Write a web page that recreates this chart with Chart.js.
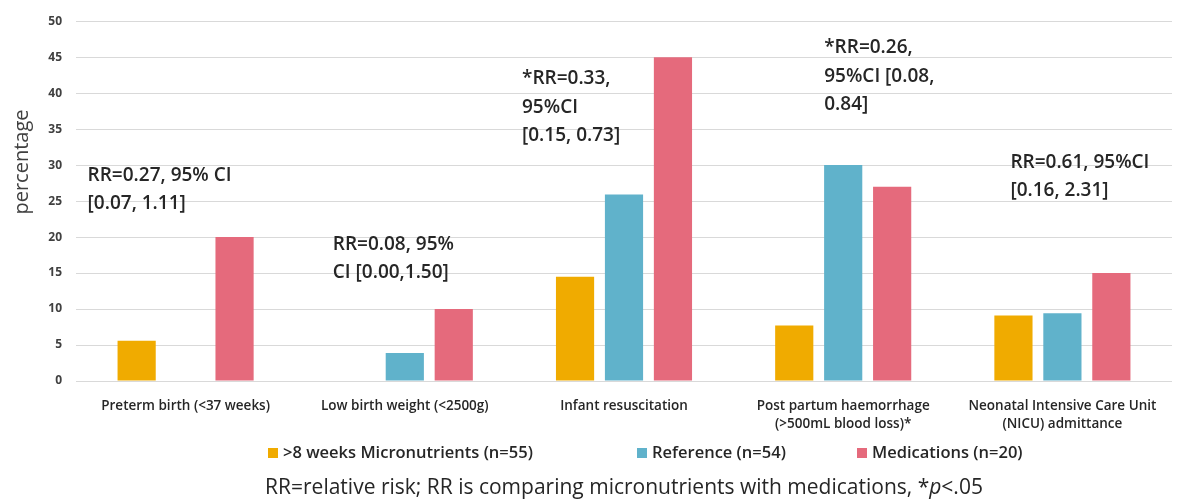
<!DOCTYPE html>
<html>
<head>
<meta charset="utf-8">
<script src="https://cdn.jsdelivr.net/npm/chart.js@4.4.1/dist/chart.umd.min.js"></script>
<style>
  html, body { margin: 0; padding: 0; background: #fff; }
  #wrap { width: 1188px; height: 504px; position: relative; }
</style>
</head>
<body>
<div id="wrap"><canvas id="myChart"></canvas></div>
<script>
// outcome categories (multi-line labels as in the figure)
const categories = [
  ["Preterm birth (<37 weeks)"],
  ["Low birth weight (<2500g)"],
  ["Infant resuscitation"],
  ["Post partum haemorrhage", "(>500mL blood loss)*"],
  ["Neonatal Intensive Care Unit", "(NICU) admittance"]
];

// percentages
const micronutrients = [5.6, 0, 14.5, 7.7, 9.1];
const reference = [0, 3.9, 25.9, 30, 9.4];
const medications = [20, 10, 45, 27, 15];

const seriesNames = [">8 weeks Micronutrients (n=55)", "Reference (n=54)", "Medications (n=20)"];
const yTicks = [0, 5, 10, 15, 20, 25, 30, 35, 40, 45, 50];

// RR notes shown above each group
const rrNotes = [
  ["RR=0.27, 95% CI", "[0.07, 1.11]"],
  ["RR=0.08, 95%", "CI [0.00,1.50]"],
  ["*RR=0.33,", "95%CI", "[0.15, 0.73]"],
  ["*RR=0.26,", "95%CI [0.08,", "0.84]"],
  ["RR=0.61, 95%CI", "[0.16, 2.31]"]
];
const rrNoteLevel = [28.6, 19.0, 42.0, 46.3, 30.4];

const noteOffsets = [-98, -72, -102, -19, -52];
const colors = ["rgb(240,171,0)", "rgb(96,178,203)", "rgb(229,106,124)"];
const legendX = [268, 637, 857];

const notesPlugin = {
  id: "notes",
  afterDraw(chart) {
    const ctx = chart.ctx;
    const x = chart.scales.x, y = chart.scales.y;
    ctx.save();
    ctx.fillStyle = "#262626";
    ctx.font = "600 19px 'Open Sans'";
    ctx.textAlign = "left";
    ctx.textBaseline = "middle";
    rrNotes.forEach((lines, i) => {
      const left = x.getPixelForValue(i) + noteOffsets[i];
      const top = y.getPixelForValue(rrNoteLevel[i]);
      lines.forEach((t, j) => ctx.fillText(t, left, top + j * 28.5));
    });

    // y axis title
    ctx.save();
    ctx.translate(22, 162);
    ctx.rotate(-Math.PI / 2);
    ctx.textAlign = "center";
    ctx.fillStyle = "#404040";
    ctx.font = "20px 'Open Sans'";
    ctx.fillText("percentage", 0, 0);
    ctx.restore();

    // legend
    ctx.font = "600 16.5px 'Open Sans'";
    seriesNames.forEach((name, i) => {
      ctx.fillStyle = colors[i];
      ctx.fillRect(legendX[i], 448, 10, 10);
      ctx.fillStyle = "#262626";
      ctx.fillText(name, legendX[i] + 15, 453);
    });

    // footer note with italic p
    const cx = (chart.chartArea.left + chart.chartArea.right) / 2;
    const parts = [
      ["RR=relative risk; RR is comparing micronutrients with medications, *", "21px 'Open Sans'"],
      ["p", "italic 21px 'Open Sans'"],
      ["<.05", "21px 'Open Sans'"]
    ];
    let total = 0;
    parts.forEach(p => { ctx.font = p[1]; total += ctx.measureText(p[0]).width; });
    let px = cx - total / 2;
    ctx.fillStyle = "#262626";
    parts.forEach(p => {
      ctx.font = p[1];
      ctx.fillText(p[0], px, 488);
      px += ctx.measureText(p[0]).width;
    });
    ctx.restore();
  }
};

const values = [micronutrients, reference, medications];

const ctx = document.getElementById("myChart").getContext("2d");
const chart = new Chart(ctx, {
  type: "bar",
  data: {
    labels: categories,
    datasets: values.map((v, i) => ({
      label: seriesNames[i],
      data: v,
      backgroundColor: colors[i],
      borderWidth: 0,
      barPercentage: 0.78,
      categoryPercentage: 0.67
    }))
  },
  options: {
    responsive: true,
    maintainAspectRatio: false,
    animation: false,
    layout: { autoPadding: false, padding: { top: 16, right: 16, bottom: 71, left: 0 } },
    plugins: {
      legend: { display: false },
      tooltip: { enabled: false }
    },
    scales: {
      x: {
        grid: { display: false },
        border: { display: false },
        ticks: {
          color: "#262626",
          padding: 8,
          maxRotation: 0,
          autoSkip: false,
          font: { family: "'Open Sans'", size: 13.5, weight: "600", lineHeight: 1.35 }
        },
        afterFit: (s) => { s.height = 52; }
      },
      y: {
        min: 0,
        max: 50,
        afterBuildTicks: (s) => { s.ticks = yTicks.map(v => ({ value: v })); },
        afterFit: (s) => { s.width = 76; },
        grid: { color: "#d9d9d9", drawTicks: false },
        border: { display: false },
        ticks: {
          color: "#404040",
          padding: 14,
          font: { family: "'Open Sans'", size: 12, weight: "bold" }
        }
      }
    }
  },
  plugins: [notesPlugin]
});
</script>
</body>
</html>
